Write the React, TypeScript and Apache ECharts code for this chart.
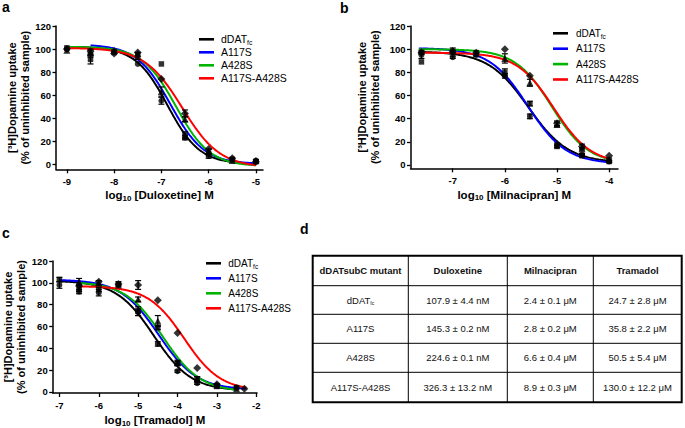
import React, { useEffect, useRef } from "react";
import * as echarts from "echarts";

const FONT = "'Liberation Sans', Arial, Helvetica, sans-serif";

// ---------- series identity ----------
const seriesNames = ["dDATfc", "A117S", "A428S", "A117S-A428S"];
const seriesColors = ["#000000", "#0000ff", "#00b400", "#ff0000"];
const markerSymbols = ["circle", "rect", "triangle", "diamond"];
const markerSizes = [6, 5.5, 7, 8];

// ---------- axis ticks ----------
const uptakeTicks = [0, 20, 40, 60, 80, 100, 120];
const duloxetineTicks = [-9, -8, -7, -6, -5];
const milnacipranTicks = [-7, -6, -5, -4];
const tramadolTicks = [-7, -6, -5, -4, -3, -2];

// ---------- panel a: duloxetine ----------
const dosesA = [-9, -8.5, -8, -7.5, -7, -6.5, -6, -5.5, -5];
const uptakeA = [
  [100, 96, 98, 87, 55, 23, 7, 4, 3],
  [101, 91, 97, 94, 87, 25, 9, 4, 2],
  [99, 97, 99, 96, 63, 39, 11, 3, 3],
  [100, 98, 96, 97, 74, 44, 13, 5, 2],
];
const errorsA = [
  [0, 3, 1, 0, 3, 2, 2, 0, 0],
  [0, 4, 0, 3, 0, 3, 0, 0, 0],
  [0, 3, 0, 0, 4, 2, 2, 0, 1],
  [0, 0, 0, 0, 0, 3, 0, 0, 0],
];
const fitTopA = [102, 104, 102, 101];
const fitBottomA = [0, 0, -2, -3];
const fitLogIC50A = [-6.87, -6.81, -6.69, -6.56];
const fitHillA = [1.28, 1.22, 1.22, 1.09];
const fitStartA = [-9, -8.5, -9, -9];
const fitEndA = [-5, -5, -5, -5];

// ---------- panel b: milnacipran ----------
const dosesB = [-7.6, -7, -6.55, -6, -5.52, -5, -4.52, -4];
const uptakeB = [
  [95, 93, 95, 77, 42, 17, 9, 3],
  [89, 98, 97, 80, 53, 16, 8, 3],
  [98, 99, 96, 92, 71, 35, 14, 5],
  [97, 98, 97, 100, 77, 36, 16, 8],
];
const errorsB = [
  [3, 1, 0, 2, 2, 2, 1, 1],
  [0, 0, 0, 3, 2, 1, 1, 0],
  [1, 2, 0, 4, 3, 2, 1, 1],
  [0, 0, 0, 0, 0, 2, 2, 0],
];
const fitTopB = [98, 101, 100, 97];
const fitBottomB = [2, 1, 1, 1];
const fitLogIC50B = [-5.55, -5.56, -5.1, -5.06];
const fitHillB = [1.13, 1.18, 1.24, 1.23];
const fitStartB = [-7.65, -7.65, -7.65, -7.65];
const fitEndB = [-4, -4, -4, -4];

// ---------- panel c: tramadol ----------
const dosesC = [-7, -6.5, -6, -5.5, -5, -4.5, -4, -3.5, -3, -2.5, -2.3];
const uptakeC = [
  [98, 92, 91, 98, 73, 44, 19, 8, 6, 4, null],
  [103, 95, 94, 99, 74, 59, 26, 12, 5, 4, null],
  [null, 101, 100, 98, 85, 65, 27, 12, 6, 3, null],
  [null, 97, 101, 99, 98, 84, 54, 22, 7, null, 3],
];
const errorsC = [
  [3, 2, 3, 0, 3, 2, 1, 1, 1, 0, 0],
  [2, 3, 2, 0, 4, 2, 2, 2, 0, 0, 0],
  [0, 3, 2, 0, 2, 5, 2, 2, 1, 0, 0],
  [0, 0, 0, 2, 4, 0, 0, 0, 0, 0, 0],
];
const fitTopC = [102, 103, 101, 97];
const fitBottomC = [1, 2, 0, 1];
const fitLogIC50C = [-4.6, -4.48, -4.37, -3.83];
const fitHillC = [0.91, 0.9, 0.91, 0.945];
const fitStartC = [-7, -7, -6.5, -6.5];
const fitEndC = [-2.55, -2.25, -2.55, -2.25];

// ---------- table d ----------
const tableHeader = ["dDATsubC mutant", "Duloxetine", "Milnacipran", "Tramadol"];
const tableMutants = ["dDATfc", "A117S", "A428S", "A117S-A428S"];
const duloxetineIC50 = ["107.9 ± 4.4 nM", "145.3 ± 0.2 nM", "224.6 ± 0.1 nM", "326.3 ± 13.2 nM"];
const milnacipranIC50 = ["2.4 ± 0.1 μM", "2.8 ± 0.2 μM", "6.6 ± 0.4 μM", "8.9 ± 0.3 μM"];
const tramadolIC50 = ["24.7 ± 2.8 μM", "35.8 ± 2.2 μM", "50.5 ± 5.4 μM", "130.0 ± 12.2 μM"];

// Hill (four-parameter logistic) fitted curve from the fit parameters
function fitCurve(top: number, bottom: number, logIC50: number, hill: number, x0: number, x1: number) {
  const n = Math.round((x1 - x0) / 0.02);
  const pts: number[][] = [];
  for (let i = 0; i <= n; i++) {
    const x = x0 + ((x1 - x0) * i) / n;
    pts.push([x, bottom + (top - bottom) / (1 + Math.pow(10, (x - logIC50) * hill))]);
  }
  return pts;
}

const Y_NAME = "[³H]Dopamine uptake\n(% of uninhibited sample)";

function xAxisFor(gridIndex: number, min: number, max: number, ticks: number[], name: string, nameGap: number) {
  return {
    type: "value",
    gridIndex,
    min,
    max,
    axisLine: { show: true, onZero: false, lineStyle: { color: "#000", width: 1.5 } },
    axisTick: { show: true, customValues: ticks, length: 4, lineStyle: { color: "#000", width: 1.3 } },
    axisLabel: { customValues: ticks, margin: 7, fontSize: 9.5, fontWeight: "bold", color: "#000", fontFamily: FONT },
    splitLine: { show: false },
    name,
    nameLocation: "middle",
    nameGap,
    nameTextStyle: {
      fontSize: 11.5,
      fontWeight: "bold",
      color: "#000",
      fontFamily: FONT,
      lineHeight: 14,
      rich: {
        sub: { fontSize: 8, fontWeight: "bold", color: "#000", fontFamily: FONT, verticalAlign: "bottom", lineHeight: 9 },
      },
    },
  };
}

function yAxisFor(gridIndex: number, min: number, nameGap: number) {
  return {
    type: "value",
    gridIndex,
    min,
    max: 120,
    axisLine: { show: true, onZero: false, lineStyle: { color: "#000", width: 1.5 } },
    axisTick: { show: true, customValues: uptakeTicks, length: 3.5, lineStyle: { color: "#000", width: 1.3 } },
    axisLabel: { customValues: uptakeTicks, margin: 5, fontSize: 9.5, fontWeight: "bold", color: "#000", fontFamily: FONT },
    splitLine: { show: false },
    name: Y_NAME,
    nameLocation: "middle",
    nameGap,
    nameTextStyle: { fontSize: 11, fontWeight: "bold", color: "#000", fontFamily: FONT, lineHeight: 13 },
  };
}

function panelSeries(
  p: number,
  tag: string,
  doses: number[],
  uptake: (number | null)[][],
  errors: number[][],
  top: number[],
  bottom: number[],
  logIC50: number[],
  hill: number[],
  start: number[],
  end: number[]
) {
  const out: any[] = [];
  seriesNames.forEach((name, s) => {
    out.push({
      type: "line",
      name,
      xAxisIndex: p,
      yAxisIndex: p,
      data: fitCurve(top[s], bottom[s], logIC50[s], hill[s], start[s], end[s]),
      showSymbol: false,
      symbol: "none",
      color: seriesColors[s],
      lineStyle: { color: seriesColors[s], width: 2 },
      z: 3,
      silent: true,
    });
  });
  seriesNames.forEach((name, s) => {
    const pts: number[][] = [];
    doses.forEach((d, i) => {
      const v = uptake[s][i];
      if (v !== null && v !== undefined) pts.push([d, v]);
    });
    out.push({
      type: "scatter",
      name: `${tag}-${name}-points`,
      xAxisIndex: p,
      yAxisIndex: p,
      data: pts,
      symbol: markerSymbols[s],
      symbolSize: markerSizes[s],
      itemStyle: { color: "#000" },
      z: 4,
      silent: true,
    });
  });
  const bars: number[][] = [];
  seriesNames.forEach((_, s) => {
    doses.forEach((d, i) => {
      const v = uptake[s][i];
      const e = errors[s][i];
      if (v !== null && v !== undefined && e > 0) bars.push([d, v, e]);
    });
  });
  out.push({
    type: "custom",
    name: `${tag}-errorbars`,
    xAxisIndex: p,
    yAxisIndex: p,
    data: bars,
    encode: { x: 0, y: 1 },
    z: 4,
    silent: true,
    renderItem: (params: any, api: any) => {
      const x = api.value(0);
      const y = api.value(1);
      const e = api.value(2);
      const hi = api.coord([x, y + e]);
      const lo = api.coord([x, y - e]);
      const st = { stroke: "#000", lineWidth: 1.2 };
      return {
        type: "group",
        children: [
          { type: "line", shape: { x1: hi[0], y1: hi[1], x2: lo[0], y2: lo[1] }, style: st },
          { type: "line", shape: { x1: hi[0] - 3, y1: hi[1], x2: hi[0] + 3, y2: hi[1] }, style: st },
          { type: "line", shape: { x1: lo[0] - 3, y1: lo[1], x2: lo[0] + 3, y2: lo[1] }, style: st },
        ],
      };
    },
  });
  return out;
}

// legend drawn as graphic: sample line + label for each series
function legendGraphic(left: number, firstRow: number, rowStep: number, textX: number, fontSize: number) {
  const els: any[] = [];
  seriesNames.forEach((name, s) => {
    const y = firstRow + rowStep * s;
    els.push({
      type: "line",
      shape: { x1: left, y1: y, x2: left + 15, y2: y },
      style: { stroke: seriesColors[s], lineWidth: 2.6 },
    });
    els.push({
      type: "text",
      x: textX,
      y,
      style: {
        text: name === "dDATfc" ? "dDAT{sub|fc}" : name,
        fontSize,
        fontFamily: FONT,
        fill: "#000",
        align: "left",
        verticalAlign: "middle",
        lineHeight: 13,
        rich: {
          sub: { fontSize: fontSize * 0.65, fontFamily: FONT, fill: "#000", verticalAlign: "bottom", lineHeight: 9 },
        },
      },
    });
  });
  return els;
}

function buildTable() {
  const els: any[] = [];
  const x0 = 312.7;
  const y0 = 255.7;
  const colEdges = [x0, 408.3, 507.3, 593.3, 681.7];
  const rowEdges = [y0, 285.7, 314.3, 343.3, 372.3, 402.3];
  for (let i = 1; i < colEdges.length - 1; i++) {
    els.push({ type: "line", shape: { x1: colEdges[i], y1: rowEdges[0], x2: colEdges[i], y2: rowEdges[5] }, style: { stroke: "#000", lineWidth: 1 } });
  }
  for (let j = 1; j < rowEdges.length - 1; j++) {
    els.push({ type: "line", shape: { x1: colEdges[0], y1: rowEdges[j], x2: colEdges[4], y2: rowEdges[j] }, style: { stroke: "#000", lineWidth: 1 } });
  }
  els.push({
    type: "rect",
    shape: { x: x0, y: y0, width: colEdges[4] - x0, height: rowEdges[5] - y0 },
    style: { fill: "transparent", stroke: "#000", lineWidth: 2 },
  });
  const cx = (i: number) => (colEdges[i] + colEdges[i + 1]) / 2;
  const cy = (j: number) => (rowEdges[j] + rowEdges[j + 1]) / 2;
  tableHeader.forEach((h, i) => {
    els.push({
      type: "text",
      x: cx(i),
      y: cy(0),
      style: { text: h, fontSize: 9.5, fontWeight: "bold", fontFamily: FONT, fill: "#111", align: "center", verticalAlign: "middle" },
    });
  });
  const cols = [tableMutants, duloxetineIC50, milnacipranIC50, tramadolIC50];
  cols.forEach((col, i) => {
    col.forEach((txt, j) => {
      els.push({
        type: "text",
        x: cx(i),
        y: cy(j + 1),
        style: {
          text: i === 0 && txt === "dDATfc" ? "dDAT{s|fc}" : txt,
          fontSize: 9.5,
          fontFamily: FONT,
          fill: "#111",
          align: "center",
          verticalAlign: "middle",
          rich: { s: { fontSize: 5, fontFamily: FONT, fill: "#111", verticalAlign: "bottom", lineHeight: 8 } },
        },
      });
    });
  });
  return els;
}

function panelLetter(t: string, x: number, y: number) {
  return {
    type: "text",
    x,
    y,
    style: { text: t, fontSize: 14, fontWeight: "bold", fontFamily: FONT, fill: "#000", align: "left", verticalAlign: "middle" },
  };
}

export default function App() {
  const ref = useRef<HTMLDivElement>(null);
  useEffect(() => {
    if (!ref.current) return;
    const chart = echarts.init(ref.current, null, { renderer: "svg" });
    const option: any = {
      animation: false,
      backgroundColor: "#ffffff",
      textStyle: { fontFamily: FONT },
      grid: [
        { left: 56, top: 26, width: 207, height: 143.3 },
        { left: 410.5, top: 26, width: 207.5, height: 142.3 },
        { left: 52.7, top: 261, width: 204.3, height: 133.3 },
      ],
      xAxis: [
        xAxisFor(0, -9.23, -4.85, duloxetineTicks, "log{sub|10} [Duloxetine] M", 19),
        xAxisFor(1, -7.81, -3.83, milnacipranTicks, "log{sub|10} [Milnacipran] M", 19.5),
        xAxisFor(2, -7.17, -1.98, tramadolTicks, "log{sub|10} [Tramadol] M", 20),
      ],
      yAxis: [yAxisFor(0, -4.6, 20), yAxisFor(1, -2.85, 29), yAxisFor(2, -1, 25.5)],
      series: [
        ...panelSeries(0, "a", dosesA, uptakeA, errorsA, fitTopA, fitBottomA, fitLogIC50A, fitHillA, fitStartA, fitEndA),
        ...panelSeries(1, "b", dosesB, uptakeB, errorsB, fitTopB, fitBottomB, fitLogIC50B, fitHillB, fitStartB, fitEndB),
        ...panelSeries(2, "c", dosesC, uptakeC, errorsC, fitTopC, fitBottomC, fitLogIC50C, fitHillC, fitStartC, fitEndC),
      ],
      graphic: [
        panelLetter("a", 2, 7),
        panelLetter("b", 340, 7.5),
        panelLetter("c", 2, 233),
        panelLetter("d", 300, 229),
        ...legendGraphic(199, 39.3, 13, 221, 10.5),
        ...legendGraphic(553, 33.3, 15.4, 576, 10),
        ...legendGraphic(206, 263.3, 15, 228.3, 10),
        ...buildTable(),
      ],
    };
    chart.setOption(option);
    return () => chart.dispose();
  }, []);
  return (
    <div
      ref={ref}
      style={{ position: "absolute", left: 0, top: 0, width: 685, height: 428, background: "#fff" }}
    />
  );
}
